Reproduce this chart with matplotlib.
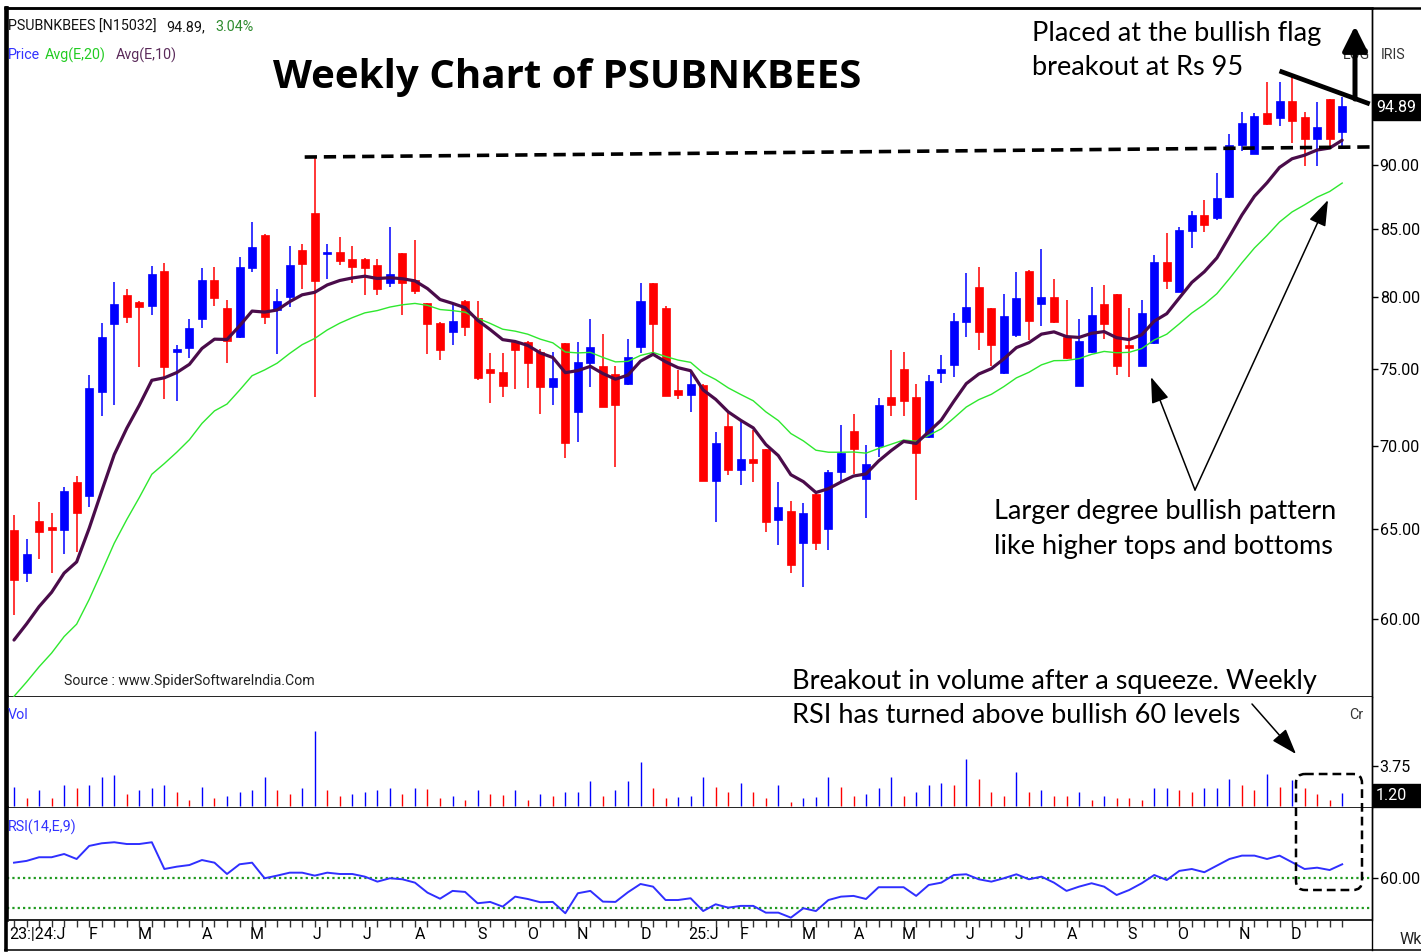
import numpy as np
import pandas as pd
import matplotlib
matplotlib.use("Agg")
import matplotlib.pyplot as plt
from matplotlib.ticker import FixedLocator, NullLocator, NullFormatter, FuncFormatter
from matplotlib.transforms import Affine2D
from matplotlib.lines import Line2D
from matplotlib.patches import FancyBboxPatch, Rectangle, FancyArrowPatch

# ---------------- data (weekly candles, PSUBNKBEES) ----------------
opens = [64.97, 62.54, 65.51, 65.16, 64.97, 67.84, 66.97, 73.51, 78.09, 80.14,
         79.62, 79.37, 81.90, 76.16, 76.41, 78.46, 81.24, 79.23, 77.19, 82.07,
         84.55, 79.07, 80.02, 83.42, 86.25, 83.15, 83.29, 82.73, 82.73, 82.31,
         80.98, 83.17, 81.22, 79.59, 78.18, 77.55, 79.73, 78.49, 74.99, 74.84,
         76.86, 76.86, 76.18, 73.79, 76.75, 72.21, 75.40, 75.22, 74.68, 74.02,
         76.52, 80.98, 79.19, 73.62, 73.30, 73.95, 67.88, 71.31, 68.55, 69.20,
         69.82, 65.55, 66.08, 64.24, 67.07, 65.01, 68.45, 70.98, 67.98, 70.04,
         73.14, 74.99, 73.14, 70.62, 74.77, 75.28, 78.25, 80.69, 79.19, 74.73,
         77.33, 81.90, 79.49, 80.02, 77.17, 73.88, 76.18, 79.49, 80.19, 76.64,
         75.24, 76.79, 82.55, 80.38, 84.88, 86.07, 85.84, 87.44, 91.62, 90.87,
         94.26, 93.83, 95.32, 93.92, 92.09, 95.46, 92.70]
highs = [65.84, 64.43, 66.63, 65.94, 67.53, 68.18, 74.61, 78.18, 81.10, 80.55,
         79.70, 82.24, 82.48, 76.64, 78.46, 82.07, 82.19, 79.78, 82.88, 85.56,
         84.62, 80.55, 83.72, 83.87, 90.54, 83.85, 84.42, 83.72, 82.80, 82.73,
         85.13, 83.20, 84.17, 79.60, 78.20, 79.54, 79.78, 79.73, 76.12, 76.12,
         76.90, 76.90, 76.35, 76.18, 76.80, 76.86, 78.42, 77.39, 75.22, 77.03,
         80.98, 81.00, 79.35, 74.95, 74.90, 74.00, 70.94, 72.21, 71.56, 71.04,
         69.85, 67.84, 66.69, 66.53, 67.10, 68.55, 71.36, 72.06, 70.10, 73.08,
         76.30, 76.18, 74.02, 74.61, 75.96, 78.88, 81.75, 82.19, 79.20, 80.21,
         81.78, 81.92, 83.47, 81.27, 79.78, 78.44, 80.69, 80.86, 80.20, 79.23,
         79.78, 83.05, 84.68, 85.13, 86.41, 87.23, 89.34, 92.52, 94.39, 94.26,
         96.92, 96.92, 97.33, 94.39, 95.20, 95.50, 95.60]
lows = [60.22, 62.04, 63.29, 62.54, 63.59, 63.72, 66.34, 71.93, 72.66, 78.18,
        75.17, 78.72, 73.01, 72.90, 75.78, 77.83, 79.37, 75.40, 77.12, 81.78,
        78.07, 76.01, 79.30, 80.57, 73.18, 81.27, 82.31, 80.98, 80.14, 80.14,
        80.69, 78.72, 80.21, 76.03, 75.62, 76.64, 77.28, 74.28, 72.80, 73.14,
        73.67, 73.73, 72.06, 72.64, 69.27, 70.30, 73.79, 72.50, 68.75, 73.95,
        76.07, 76.18, 73.20, 73.01, 72.21, 67.85, 65.45, 68.24, 67.64, 67.84,
        64.87, 64.10, 62.54, 61.73, 63.82, 63.82, 67.90, 68.30, 65.65, 69.37,
        71.93, 71.93, 66.73, 70.54, 74.06, 74.50, 77.17, 76.30, 75.22, 74.68,
        77.21, 76.98, 77.95, 78.14, 75.67, 73.85, 76.12, 77.03, 74.61, 74.50,
        75.20, 76.70, 80.55, 80.35, 83.54, 84.80, 85.69, 87.40, 91.09, 90.85,
        93.30, 93.19, 91.81, 89.92, 89.92, 91.54, 91.45]
closes = [62.13, 63.57, 64.87, 64.97, 67.29, 65.98, 73.73, 77.17, 79.49, 78.60,
          79.26, 81.63, 75.17, 76.37, 77.79, 81.24, 79.90, 76.91, 82.19, 83.67,
          78.60, 79.73, 82.31, 82.36, 81.13, 83.25, 82.63, 82.19, 82.07, 80.57,
          81.63, 80.98, 80.45, 78.09, 76.30, 78.30, 77.85, 74.39, 74.77, 73.88,
          76.30, 75.40, 73.79, 74.39, 70.20, 75.51, 76.48, 72.54, 72.64, 75.85,
          79.73, 78.09, 73.23, 73.30, 74.00, 67.88, 70.24, 68.55, 69.20, 69.00,
          65.42, 66.30, 62.97, 65.94, 64.24, 68.45, 69.61, 69.82, 68.89, 72.64,
          72.64, 72.92, 69.61, 74.24, 74.99, 78.30, 79.30, 77.55, 76.64, 78.67,
          79.90, 78.32, 80.02, 78.25, 75.74, 76.91, 78.72, 78.09, 75.24, 76.41,
          78.84, 82.55, 81.17, 84.93, 86.07, 85.31, 87.41, 91.62, 93.46, 94.05,
          93.33, 95.32, 93.63, 92.09, 93.11, 92.09, 94.89]
volumes = [1.81, 0.78, 1.47, 0.78, 1.97, 1.66, 1.97, 2.69, 2.88, 1.09,
           1.47, 1.66, 1.97, 1.31, 0.56, 1.81, 0.78, 0.94, 1.31, 1.47,
           2.69, 1.47, 1.09, 1.66, 7.06, 1.47, 0.94, 1.09, 1.31, 1.47,
           1.66, 1.09, 1.66, 1.60, 0.78, 0.94, 0.56, 1.47, 1.09, 1.05,
           1.47, 0.56, 1.09, 0.94, 1.31, 1.35, 2.34, 0.94, 1.47, 2.34,
           4.09, 1.66, 0.78, 0.82, 0.94, 2.69, 1.81, 1.31, 2.19, 1.31,
           0.78, 1.97, 0.41, 0.78, 0.82, 2.69, 1.81, 0.94, 1.09, 1.66,
           2.69, 0.94, 1.31, 1.97, 2.19, 1.97, 4.44, 2.50, 1.31, 0.94,
           3.22, 1.31, 1.47, 0.94, 0.90, 1.31, 0.56, 0.94, 0.78, 0.74,
           0.56, 1.66, 1.70, 1.47, 1.31, 1.66, 1.72, 2.50, 1.97, 1.47,
           3.03, 1.81, 2.41, 1.66, 1.09, 0.56, 1.20]
rsi_values = [70.6, 71.8, 74.3, 74.3, 76.5, 73.1, 82.0, 83.8, 84.5, 83.3,
              83.3, 84.5, 66.3, 67.9, 69.0, 72.4, 70.6, 62.9, 69.5, 70.6,
              60.0, 61.8, 63.8, 63.8, 61.8, 63.8, 62.9, 62.9, 61.1, 57.7,
              60.0, 59.3, 57.0, 50.2, 46.1, 51.4, 50.7, 43.0, 43.9, 40.7,
              47.5, 45.9, 43.7, 43.9, 36.2, 49.8, 51.4, 44.1, 43.9, 50.5,
              56.1, 54.3, 45.2, 45.2, 46.4, 37.7, 42.3, 40.0, 41.2, 41.2,
              36.6, 36.6, 33.2, 39.6, 37.7, 45.2, 47.5, 48.0, 45.9, 53.9,
              53.9, 53.9, 48.0, 55.4, 57.0, 62.2, 62.7, 59.3, 57.7, 60.0,
              62.7, 59.3, 61.1, 57.0, 51.4, 54.3, 56.6, 54.3, 48.6, 52.0,
              56.6, 62.2, 58.8, 65.0, 66.3, 64.1, 68.6, 73.1, 75.4, 75.4,
              73.1, 75.4, 70.9, 66.3, 67.2, 65.6, 69.5]
ema10_start = 58.89   # EMA(10) value at first visible week
ema20_start = 56.00   # EMA(20) value at first visible week

price_ticks = [60, 65, 70, 75, 80, 85, 90]
month_labels = ["23:|24:J", "F", "M", "A", "M", "J", "J", "A", "S", "O", "N", "D",
                "25:J", "F", "M", "A", "M", "J", "J", "A", "S", "O", "N", "D"]
month_pos = [1.85, 6.3, 10.45, 15.4, 19.4, 24.2, 28.2, 32.4, 37.35, 41.4, 45.4, 50.4,
             55.0, 58.3, 63.4, 67.4, 71.4, 76.3, 80.2, 84.4, 89.2, 93.3, 98.2, 102.3]
last_price = 94.89
last_change = 3.04
last_volume = 1.20
volume_ticks = [3.75]
rsi_levels = [60, 40]
resistance_x = [23.2, 108.2]
resistance_y = [90.64, 91.46]
flag_x = [101.0, 108.2]
flag_y = [97.88, 95.04]

# ---------------- figure ----------------
W, H = 1421, 952
fig = plt.figure(figsize=(W / 100, H / 100), dpi=100)
PX = Affine2D().scale(1, -1).translate(0, H)   # pixel coords, y downwards

NARROW = ['Roboto', 'DejaVu Sans']
CAL = ['Lato', 'DejaVu Sans']
plt.rcParams['font.family'] = NARROW

BLUE = '#0000ff'
RED = '#ff0000'
LEFT, RIGHT = 7, 1372
X0 = 14.0
DX = 12.53
AXFS = 11.5


def add_ax(top, bottom):
    return fig.add_axes([LEFT / W, 1 - bottom / H, (RIGHT - LEFT) / W, (bottom - top) / H])


ax = add_ax(8, 697)
axv = add_ax(697, 808)
axr = add_ax(808, 920)

xl = ((LEFT - X0) / DX, (RIGHT - X0) / DX)
for a in (ax, axv, axr):
    a.set_xlim(*xl)
    a.set_facecolor('white')
    for s in a.spines.values():
        s.set_color('#222222')
        s.set_linewidth(1.4)
    a.spines['left'].set_color('black')
    a.spines['left'].set_linewidth(2.6)
    a.spines['right'].set_linewidth(1.0)
    a.spines['right'].set_color('black')
    a.tick_params(axis='x', which='both', bottom=False, labelbottom=False)
    a.yaxis.tick_right()

n = len(closes)
x = np.arange(n)
o = np.array(opens)
hi = np.array(highs)
lo = np.array(lows)
c = np.array(closes)
cc = np.where(c >= o, BLUE, RED)

# price panel
ax.set_yscale('log')
ax.set_ylim(55.97, 103.54)
ax.vlines(x, lo, hi, colors=cc, lw=1.1, zorder=2)
ax.bar(x, np.abs(c - o), bottom=np.minimum(o, c), width=0.64, color=cc,
       edgecolor=cc, linewidth=0.5, zorder=3)

close_s = pd.Series(c)
ema10 = pd.concat([pd.Series([ema10_start]), close_s.iloc[1:]]).reset_index(drop=True).ewm(span=10, adjust=False).mean()
ema20 = pd.concat([pd.Series([ema20_start]), close_s.iloc[1:]]).reset_index(drop=True).ewm(span=20, adjust=False).mean()
ax.plot(x, ema20, color='#2ee82e', lw=1.0, zorder=4)
ax.plot(x, ema10, color='#4a0c4a', lw=2.3, zorder=5, solid_capstyle='round')

ax.yaxis.set_major_locator(FixedLocator(price_ticks))
ax.yaxis.set_minor_locator(NullLocator())
ax.yaxis.set_minor_formatter(NullFormatter())
ax.yaxis.set_major_formatter(FuncFormatter(lambda v, p: f"{v:.2f}"))
ax.tick_params(axis='y', which='major', direction='out', length=4, width=1.0,
               pad=1.5, labelsize=AXFS, colors='black')
ax.spines['top'].set_color('black')
ax.spines['top'].set_linewidth(1.8)

# resistance dashed line and flag line (annotation)
ax.plot(resistance_x, resistance_y, color='black', lw=2.6, ls=(0, (3.4, 1.9)),
        zorder=6, clip_on=False)
ax.plot(flag_x, flag_y, color='black', lw=3.4, zorder=6, clip_on=False,
        solid_capstyle='butt')

# volume panel
v = np.array(volumes)
vcol = [BLUE] + [BLUE if v[i] >= v[i - 1] else RED for i in range(1, n)]
axv.vlines(x, 0, v, colors=vcol, lw=1.0)
axv.set_ylim(-0.19, 10.22)
axv.yaxis.set_major_locator(FixedLocator(volume_ticks))
axv.yaxis.set_major_formatter(FuncFormatter(lambda v_, p: f"{v_:.2f}"))
axv.tick_params(axis='y', direction='out', length=4, width=1.0, pad=1.5,
                labelsize=AXFS, colors='black')
axv.spines['top'].set_visible(False)

# RSI panel
axr.plot(x, rsi_values, color='#2f2fff', lw=1.4, zorder=3)
for lev in rsi_levels:
    axr.axhline(lev, color='#1f9a1f', lw=1.6, ls=(0, (1, 1.4)), zorder=2)
axr.set_ylim(31.6, 107.8)
axr.yaxis.set_major_locator(FixedLocator([rsi_levels[0]]))
axr.yaxis.set_major_formatter(FuncFormatter(lambda v_, p: f"{v_:.2f}"))
axr.tick_params(axis='y', direction='out', length=4, width=1.0, pad=1.5,
                labelsize=AXFS, colors='black')
axr.spines['top'].set_visible(False)
axr.set_xticks(month_pos)
axr.set_xticklabels(month_labels)
axr.xaxis.set_minor_locator(FixedLocator(x))
axr.tick_params(axis='x', which='major', bottom=True, labelbottom=True, length=0,
                pad=5, labelsize=AXFS, colors='black')
axr.tick_params(axis='x', which='minor', bottom=True, length=5, width=1.0,
                direction='out', colors='#333333')


# ---------------- texts & annotations ----------------
def ptext(xp, yp, s, **kw):
    kw.setdefault('transform', PX)
    return fig.text(xp, yp, s, **kw)


HFS = 10.3
ptext(8, 27, "PSUBNKBEES [N15032]", fontsize=HFS, color='#111111', va='center')
ptext(166, 27, f"{last_price:.2f},", fontsize=HFS, color='#111111', va='center')
ptext(215, 27, f"{last_change:.2f}%", fontsize=HFS, color='#2e8b2e', va='center')
ptext(8, 55, "Price", fontsize=HFS, color='#3333ff', va='center')
ptext(45, 55, "Avg(E,20)", fontsize=HFS, color='#22cc22', va='center')
ptext(116, 55, "Avg(E,10)", fontsize=HFS, color='#5a2a5a', va='center')

ptext(567, 88, "Weekly Chart of PSUBNKBEES", fontsize=29, fontweight='bold',
      family=['Open Sans', 'DejaVu Sans'], color='black', ha='center', va='baseline')

ptext(64, 681, "Source : www.SpiderSoftwareIndia.Com", fontsize=10.2,
      color='#222222', va='center')
ptext(8, 715, "Vol", fontsize=HFS, color='#3333ff', va='center')
ptext(8, 827, "RSI(14,E,9)", fontsize=HFS, color='#3333ff', va='center')
ptext(1349, 715, "Cr", fontsize=HFS, color='#333333', va='center')
ptext(1343, 55, "LOG", fontsize=HFS, color='#333333', va='center')
ptext(1381, 55, "IRIS", fontsize=HFS, color='#333333', va='center')
ptext(1400, 940, "Wk", fontsize=AXFS, color='#222222', va='center')

# boxed last values on right axis
fig.add_artist(Rectangle((1373, 94), 48, 26, transform=PX, color='black', zorder=10))
ptext(1376, 107, f"{last_price:.2f}", fontsize=AXFS, color='white', va='center', zorder=11)
fig.add_artist(Rectangle((1373, 784), 48, 23, transform=PX, color='black', zorder=10))
ptext(1376, 795.5, f"{last_volume:.2f}", fontsize=AXFS, color='white', va='center', zorder=11)

# commentary
CFS = 19.5
ptext(1032, 41, "Placed at the bullish flag", fontsize=CFS, family=CAL, color='black', va='baseline')
ptext(1032, 75, "breakout at Rs 95", fontsize=CFS, family=CAL, color='black', va='baseline')
ptext(994, 519, "Larger degree bullish pattern", fontsize=CFS, family=CAL, color='black', va='baseline')
ptext(994, 554, "like higher tops and bottoms", fontsize=CFS, family=CAL, color='black', va='baseline')
ptext(792, 689, "Breakout in volume after a squeeze. Weekly", fontsize=CFS, family=CAL,
      color='black', va='baseline')
ptext(792, 723, "RSI has turned above bullish 60 levels", fontsize=CFS, family=CAL,
      color='black', va='baseline')


def parrow(p0, p1, lw=1.1, hl=1.6, hw=0.55, ms=10):
    fig.add_artist(FancyArrowPatch(p0, p1, transform=PX,
                                   arrowstyle=f'-|>,head_length={hl},head_width={hw}',
                                   mutation_scale=ms, lw=lw, color='black',
                                   shrinkA=0, shrinkB=0, zorder=12))


parrow((1195, 490), (1151, 377))
parrow((1195, 490), (1328, 200))
parrow((1252, 704), (1296, 754))
parrow((1355, 99), (1355, 26), lw=3.6, hl=1.5, hw=0.75, ms=10)

fig.add_artist(FancyBboxPatch((1296, 774), 66, 116, transform=PX,
                              boxstyle='round,pad=0,rounding_size=9',
                              fill=False, edgecolor='black', lw=1.8,
                              ls=(0, (3.5, 2)), zorder=12))

# outer frame lines
fig.add_artist(Line2D([5, W], [8, 8], transform=PX, color='black', lw=1.8))
fig.add_artist(Line2D([5, W], [950, 950], transform=PX, color='#333333', lw=1.4))
fig.add_artist(Line2D([RIGHT, RIGHT], [8, 950], transform=PX, color='black', lw=1.0))
fig.add_artist(Line2D([5.5, 5.5], [8, 950], transform=PX, color='black', lw=2.6))

fig.savefig("out.png", dpi=100, facecolor='white')
